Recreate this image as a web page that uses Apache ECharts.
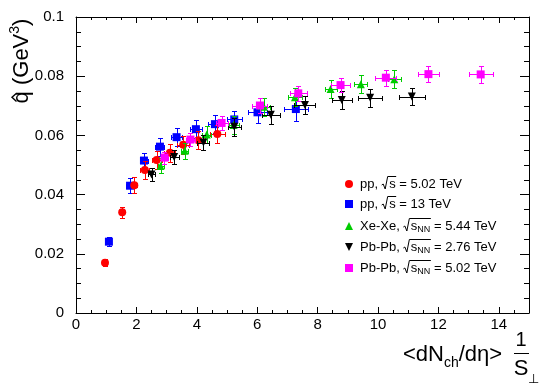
<!DOCTYPE html>
<html><head><meta charset="utf-8">
<script src="https://cdn.jsdelivr.net/npm/echarts@6/dist/echarts.min.js"></script>
<style>html,body{margin:0;padding:0;background:#fff}#c{width:550px;height:389px}</style>
</head><body><div id="c"></div>
<script>
// ---- data ----
const pp502X  = [0.96, 1.53, 1.93, 2.28, 2.67, 3.11, 3.55, 4.05, 4.68];
const pp502Y  = [0.0170, 0.0340, 0.0432, 0.0483, 0.0517, 0.0541, 0.0568, 0.0584, 0.0605];
const pp502XE = [0.05, 0.05, 0.10, 0.15, 0.17, 0.18, 0.20, 0.22, 0.25];
const pp502YE = [0.0012, 0.0018, 0.0028, 0.0030, 0.0030, 0.0030, 0.0030, 0.0030, 0.0030];

const pp13X  = [1.09, 1.79, 2.25, 2.78, 3.33, 3.97, 4.60, 5.24, 6.01, 7.28];
const pp13Y  = [0.0241, 0.0430, 0.0515, 0.0562, 0.0594, 0.0621, 0.0638, 0.0654, 0.0678, 0.0689];
const pp13XE = [0.05, 0.12, 0.13, 0.15, 0.17, 0.20, 0.22, 0.25, 0.30, 0.39];
const pp13YE = [0.0015, 0.0025, 0.0027, 0.0030, 0.0030, 0.0030, 0.0030, 0.0030, 0.0035, 0.0040];

const xexeX  = [2.80, 3.60, 4.33, 5.22, 6.22, 7.25, 8.43, 9.43, 10.54];
const xexeY  = [0.0497, 0.0548, 0.0603, 0.0635, 0.0697, 0.0729, 0.0757, 0.0773, 0.0790];
const xexeXE = [0.10, 0.12, 0.15, 0.17, 0.20, 0.22, 0.20, 0.22, 0.22];
const xexeYE = [0.0025, 0.0028, 0.0030, 0.0030, 0.0030, 0.0030, 0.0030, 0.0030, 0.0030];

const pb276X  = [2.50, 3.25, 4.22, 5.24, 6.45, 7.58, 8.80, 9.74, 11.12];
const pb276Y  = [0.0468, 0.0527, 0.0576, 0.0629, 0.0670, 0.0703, 0.0720, 0.0727, 0.0731];
const pb276XE = [0.12, 0.15, 0.20, 0.22, 0.30, 0.35, 0.33, 0.39, 0.42];
const pb276YE = [0.0022, 0.0025, 0.0027, 0.0030, 0.0030, 0.0030, 0.0030, 0.0030, 0.0028];

const pb502X  = [2.93, 3.79, 4.82, 6.09, 7.36, 8.76, 10.26, 11.67, 13.40];
const pb502Y  = [0.0525, 0.0586, 0.0642, 0.0701, 0.0742, 0.0770, 0.0795, 0.0807, 0.0806];
const pb502XE = [0.10, 0.15, 0.20, 0.25, 0.28, 0.30, 0.35, 0.36, 0.40];
const pb502YE = [0.0020, 0.0022, 0.0025, 0.0025, 0.0025, 0.0025, 0.0027, 0.0028, 0.0028];

const legendLabels = [
  {pre: 'pp, ', rad: 's', sub: '', post: ' = 5.02 TeV'},
  {pre: 'pp, ', rad: 's', sub: '', post: ' = 13 TeV'},
  {pre: 'Xe-Xe, ', rad: 's', sub: 'NN', post: ' = 5.44 TeV'},
  {pre: 'Pb-Pb, ', rad: 's', sub: 'NN', post: ' = 2.76 TeV'},
  {pre: 'Pb-Pb, ', rad: 's', sub: 'NN', post: ' = 5.02 TeV'}
];
const xTicks = [0, 2, 4, 6, 8, 10, 12, 14];
const yTicks = [0, 0.02, 0.04, 0.06, 0.08, 0.1];

// ---- style ----
const FF = "'Liberation Sans', Arial, Helvetica, sans-serif";
const C_RED = '#ff0000', C_BLUE = '#0000ff', C_GREEN = '#00cc00', C_BLACK = '#000000', C_MAG = '#ff00ff';

const mctx = document.createElement('canvas').getContext('2d');
function tw(s, size) { mctx.font = size + 'px ' + FF; return mctx.measureText(s).width; }

function errRender(color) {
  return function (params, api) {
    const x = api.value(0), y = api.value(1), xe = api.value(2), ye = api.value(3);
    const c = api.coord([x, y]);
    const l = Math.round(api.coord([x - xe, y])[0]) + 0.5;
    const r = Math.round(api.coord([x + xe, y])[0]) + 0.5;
    const t = Math.round(api.coord([x, y + ye])[1]) + 0.5;
    const b = Math.round(api.coord([x, y - ye])[1]) + 0.5;
    const cx = Math.round(c[0]) + 0.5, cy = Math.round(c[1]) + 0.5;
    const st = {stroke: color, lineWidth: 1};
    const ch = [];
    const cap = 2.5;
    if (r - l > 2) {
      ch.push({type: 'line', shape: {x1: l, y1: cy, x2: r, y2: cy}, style: st});
      ch.push({type: 'line', shape: {x1: l, y1: cy - cap, x2: l, y2: cy + cap}, style: st});
      ch.push({type: 'line', shape: {x1: r, y1: cy - cap, x2: r, y2: cy + cap}, style: st});
    }
    ch.push({type: 'line', shape: {x1: cx, y1: t, x2: cx, y2: b}, style: st});
    ch.push({type: 'line', shape: {x1: cx - cap, y1: t, x2: cx + cap, y2: t}, style: st});
    ch.push({type: 'line', shape: {x1: cx - cap, y1: b, x2: cx + cap, y2: b}, style: st});
    return {type: 'group', children: ch};
  };
}

function mk(name, xs, ys, xe, ye, color, symbol, rot, size, z) {
  const data = xs.map((x, i) => [x, ys[i], xe[i], ye[i]]);
  return [
    {type: 'custom', name: name, data: data, z: z, silent: true, renderItem: errRender(color),
     encode: {x: 0, y: 1}, xAxisIndex: 0, yAxisIndex: 0},
    {type: 'scatter', name: name, data: data, z: z + 1, symbol: symbol, symbolSize: size,
     symbolRotate: rot, itemStyle: {color: color, opacity: 1}, encode: {x: 0, y: 1},
     xAxisIndex: 0, yAxisIndex: 0}
  ];
}

const series = [].concat(
  mk('pp13', pp13X, pp13Y, pp13XE, pp13YE, C_BLUE, 'rect', 0, 8, 2),
  mk('pp502', pp502X, pp502Y, pp502XE, pp502YE, C_RED, 'circle', 0, 8, 4),
  mk('xexe', xexeX, xexeY, xexeXE, xexeYE, C_GREEN, 'triangle', 0, 8, 6),
  mk('pb276', pb276X, pb276Y, pb276XE, pb276YE, C_BLACK, 'triangle', 180, 8, 8),
  mk('pb502', pb502X, pb502Y, pb502XE, pb502YE, C_MAG, 'rect', 0, 8, 10)
);

// ---- axes (4 overlapping grids: major/minor, bottom-left/top-right) ----
const G = {left: 76, top: 17, width: 453, height: 296};
const grids = [0, 1, 2, 3].map(() => Object.assign({containLabel: false}, G));
const tickCol = {color: '#000', width: 1};
function xa(gi, pos, interval, len, line, labels) {
  return {gridIndex: gi, type: 'value', position: pos, min: 0, max: 15, interval: interval,
    axisLine: {show: line, onZero: false, lineStyle: tickCol},
    axisTick: {show: true, inside: true, length: len, lineStyle: tickCol},
    splitLine: {show: false},
    axisLabel: {show: labels, color: '#000', fontSize: 15, fontFamily: FF, margin: 4,
      formatter: v => (xTicks.indexOf(v) >= 0 ? String(v) : '')}};
}
function ya(gi, pos, interval, len, line, labels) {
  return {gridIndex: gi, type: 'value', position: pos, min: 0, max: 0.1, interval: interval,
    axisLine: {show: line, onZero: false, lineStyle: tickCol},
    axisTick: {show: true, inside: true, length: len, lineStyle: tickCol},
    splitLine: {show: false},
    axisLabel: {show: labels, color: '#000', fontSize: 15, fontFamily: FF, margin: 12,
      formatter: v => { const r = Math.round(v * 1000) / 1000; return yTicks.indexOf(r) >= 0 ? String(r) : ''; }}};
}

// ---- graphic: legend and axis titles ----
const g = [];
function txt(x, y, s, size, extra) {
  return Object.assign({type: 'text', x: x, y: y, silent: true,
    style: {text: s, fontSize: size, fontFamily: FF, fill: '#000', align: 'left', verticalAlign: 'middle'}}, extra || {});
}
const legRowsY = [184, 204, 226, 247, 268];
const legSym = [
  {kind: 'circle', color: C_RED}, {kind: 'rect', color: C_BLUE}, {kind: 'up', color: C_GREEN},
  {kind: 'down', color: C_BLACK}, {kind: 'rect', color: C_MAG}
];
const LFS = 13, LSUB = 9;
legendLabels.forEach((lab, i) => {
  const yc = legRowsY[i];
  const sx = 349;
  const s = legSym[i];
  if (s.kind === 'circle') g.push({type: 'circle', shape: {cx: sx, cy: yc, r: 4}, style: {fill: s.color}});
  else if (s.kind === 'rect') g.push({type: 'rect', shape: {x: sx - 4, y: yc - 4, width: 8, height: 8}, style: {fill: s.color}});
  else if (s.kind === 'up') g.push({type: 'polygon', shape: {points: [[sx, yc - 4], [sx + 4, yc + 4], [sx - 4, yc + 4]]}, style: {fill: s.color}});
  else g.push({type: 'polygon', shape: {points: [[sx - 4, yc - 4], [sx + 4, yc - 4], [sx, yc + 4]]}, style: {fill: s.color}});
  let x = 360;
  g.push(txt(x, yc, lab.pre, LFS)); x += tw(lab.pre, LFS);
  const rx = x;
  const radW = tw(lab.rad, LFS) + (lab.sub ? tw(lab.sub, LSUB) : 0);
  const top = yc - 7.5, yb = yc + 5;
  g.push({type: 'polyline', silent: true, shape: {points: [[rx, yc + 1], [rx + 1.5, yc], [rx + 3.5, yb], [rx + 6, top], [rx + 7 + radW + 1, top]]},
    style: {stroke: '#000', lineWidth: 1, fill: null}});
  x = rx + 7.5;
  g.push(txt(x, yc, lab.rad, LFS)); x += tw(lab.rad, LFS);
  if (lab.sub) { g.push(txt(x, yc + 4, lab.sub, LSUB)); x += tw(lab.sub, LSUB); }
  g.push(txt(x, yc, lab.post, LFS));
});

// x-axis title: <dN_ch/dη> 1/S⊥
(function () {
  const FS = 22, SS = 14, yc = 355;
  let x = 403;
  g.push(txt(x, yc, '<dN', FS)); x += tw('<dN', FS);
  g.push(txt(x, yc + 8, 'ch', SS)); x += tw('ch', SS);
  g.push(txt(x, yc, '/d\u03b7>', FS));
  g.push(txt(521, 340, '1', 20, {style: {text: '1', fontSize: 20, fontFamily: FF, fill: '#000', align: 'center', verticalAlign: 'middle'}}));
  g.push({type: 'line', silent: true, shape: {x1: 514, y1: 353.5, x2: 529, y2: 353.5}, style: {stroke: '#000', lineWidth: 1}});
  g.push(txt(521, 369, 'S', FS, {style: {text: 'S', fontSize: FS, fontFamily: FF, fill: '#000', align: 'center', verticalAlign: 'middle'}}));
  g.push(txt(528, 379, '\u22a5', 13));
})();

// y-axis title: q̂ (GeV³), rotated
(function () {
  const FS = 22, SS = 14;
  const parts = [['q', FS, 0], [' (GeV', FS, 0], ['3', SS, -7], [')', FS, 0]];
  let total = 0; parts.forEach(p => total += tw(p[0], p[1]));
  let x = -total / 2;
  const ch = [];
  parts.forEach((p, i) => {
    if (i === 0) {
      const qw = tw('q', FS);
      ch.push({type: 'polyline', shape: {points: [[x + 2, -5.5], [x + qw / 2, -10], [x + qw - 2, -5.5]]},
        style: {stroke: '#000', lineWidth: 1.4, fill: null}});
    }
    ch.push(txt(x, p[2], p[0], p[1]));
    x += tw(p[0], p[1]);
  });
  g.push({type: 'group', x: 22, y: 61, rotation: Math.PI / 2, silent: true, children: ch});
})();

const chart = echarts.init(document.getElementById('c'), null, {renderer: 'canvas'});
chart.setOption({
  animation: false,
  backgroundColor: '#ffffff',
  grid: grids,
  xAxis: [xa(0, 'bottom', 2, 6, true, true), xa(1, 'bottom', 0.5, 3, false, false),
          xa(2, 'top', 2, 6, true, false), xa(3, 'top', 0.5, 3, false, false)],
  yAxis: [ya(0, 'left', 0.02, 9, true, true), ya(1, 'left', 0.005, 5, false, false),
          ya(2, 'right', 0.02, 9, true, false), ya(3, 'right', 0.005, 5, false, false)],
  series: series,
  graphic: g
});
</script></body></html>
